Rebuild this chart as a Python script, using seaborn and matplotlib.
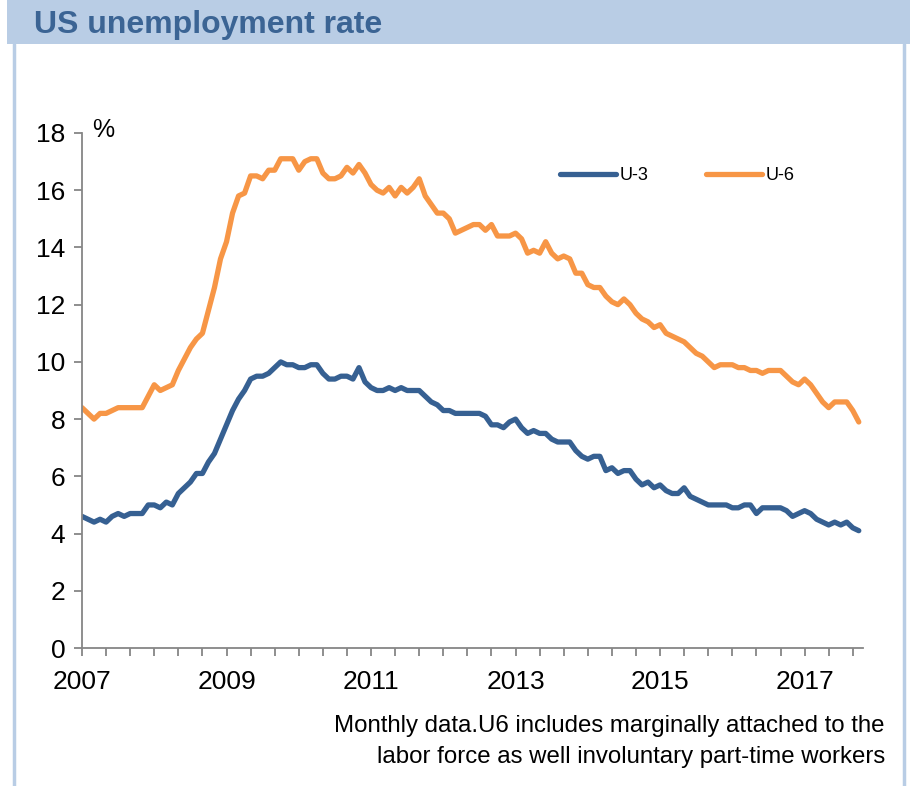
import numpy as np
import pandas as pd
import matplotlib
matplotlib.use("Agg")
import matplotlib.pyplot as plt
import seaborn as sns
from matplotlib.patches import Rectangle
from matplotlib.lines import Line2D

# monthly values, Jan 2007 .. Oct 2017
u3 = [4.6, 4.5, 4.4, 4.5, 4.4, 4.6, 4.7, 4.6, 4.7, 4.7, 4.7, 5.0,
      5.0, 4.9, 5.1, 5.0, 5.4, 5.6, 5.8, 6.1, 6.1, 6.5, 6.8, 7.3,
      7.8, 8.3, 8.7, 9.0, 9.4, 9.5, 9.5, 9.6, 9.8, 10.0, 9.9, 9.9,
      9.8, 9.8, 9.9, 9.9, 9.6, 9.4, 9.4, 9.5, 9.5, 9.4, 9.8, 9.3,
      9.1, 9.0, 9.0, 9.1, 9.0, 9.1, 9.0, 9.0, 9.0, 8.8, 8.6, 8.5,
      8.3, 8.3, 8.2, 8.2, 8.2, 8.2, 8.2, 8.1, 7.8, 7.8, 7.7, 7.9,
      8.0, 7.7, 7.5, 7.6, 7.5, 7.5, 7.3, 7.2, 7.2, 7.2, 6.9, 6.7,
      6.6, 6.7, 6.7, 6.2, 6.3, 6.1, 6.2, 6.2, 5.9, 5.7, 5.8, 5.6,
      5.7, 5.5, 5.4, 5.4, 5.6, 5.3, 5.2, 5.1, 5.0, 5.0, 5.0, 5.0,
      4.9, 4.9, 5.0, 5.0, 4.7, 4.9, 4.9, 4.9, 4.9, 4.8, 4.6, 4.7,
      4.8, 4.7, 4.5, 4.4, 4.3, 4.4, 4.3, 4.4, 4.2, 4.1]
u6 = [8.4, 8.2, 8.0, 8.2, 8.2, 8.3, 8.4, 8.4, 8.4, 8.4, 8.4, 8.8,
      9.2, 9.0, 9.1, 9.2, 9.7, 10.1, 10.5, 10.8, 11.0, 11.8, 12.6, 13.6,
      14.2, 15.2, 15.8, 15.9, 16.5, 16.5, 16.4, 16.7, 16.7, 17.1, 17.1, 17.1,
      16.7, 17.0, 17.1, 17.1, 16.6, 16.4, 16.4, 16.5, 16.8, 16.6, 16.9, 16.6,
      16.2, 16.0, 15.9, 16.1, 15.8, 16.1, 15.9, 16.1, 16.4, 15.8, 15.5, 15.2,
      15.2, 15.0, 14.5, 14.6, 14.7, 14.8, 14.8, 14.6, 14.8, 14.4, 14.4, 14.4,
      14.5, 14.3, 13.8, 13.9, 13.8, 14.2, 13.8, 13.6, 13.7, 13.6, 13.1, 13.1,
      12.7, 12.6, 12.6, 12.3, 12.1, 12.0, 12.2, 12.0, 11.7, 11.5, 11.4, 11.2,
      11.3, 11.0, 10.9, 10.8, 10.7, 10.5, 10.3, 10.2, 10.0, 9.8, 9.9, 9.9,
      9.9, 9.8, 9.8, 9.7, 9.7, 9.6, 9.7, 9.7, 9.7, 9.5, 9.3, 9.2,
      9.4, 9.2, 8.9, 8.6, 8.4, 8.6, 8.6, 8.6, 8.3, 7.9]
year_labels = ["2007", "2009", "2011", "2013", "2015", "2017"]

months = np.arange(len(u3))
df = pd.DataFrame({"month": np.concatenate([months, months]),
                   "rate": u3 + u6,
                   "series": ["U-3"] * len(u3) + ["U-6"] * len(u6)})

sns.set_theme(style="white")
plt.rcParams["font.family"] = ["Liberation Sans", "DejaVu Sans"]
plt.rcParams["text.color"] = "black"

blue = "#366092"
orange = "#F79646"
grey = "#868686"

fig = plt.figure(figsize=(9.1, 7.86), dpi=100)

# title bar and frame
fig.patches.append(Rectangle((7 / 910, 1 - 44 / 786), 1, 44 / 786, transform=fig.transFigure,
                             facecolor="#B9CDE5", edgecolor="none", zorder=0))
fig.add_artist(Line2D([14 / 910, 14 / 910], [0, 1 - 44 / 786], color="#B9CDE5", lw=2.5))
fig.add_artist(Line2D([904 / 910, 904 / 910], [0, 1 - 44 / 786], color="#B9CDE5", lw=2.5))
fig.text(34 / 910, 1 - 25 / 786, "US unemployment rate", fontsize=23, fontweight="bold",
         color="#3B6494", va="center", ha="left")

ax = fig.add_axes([82 / 910, 138 / 786, 781 / 910, 515 / 786])
sns.lineplot(data=df, x="month", y="rate", hue="series", palette={"U-3": blue, "U-6": orange},
             linewidth=3.8, ax=ax, legend=False)
for ln in ax.lines:
    ln.set_solid_capstyle("round")
    ln.set_solid_joinstyle("round")

ax.set_xlim(0, 129.7)
ax.set_ylim(0, 18)
ax.set_yticks(np.arange(0, 19, 2))
ax.set_xticks(np.arange(0, 130, 4))
ax.set_xticklabels([year_labels[i // 24] if i % 24 == 0 else "" for i in range(0, 130, 4)])
ax.tick_params(axis="both", labelsize=19, colors=grey, labelcolor="black", length=6,
               width=1.3, direction="out", bottom=True, left=True)
ax.tick_params(axis="x", pad=10)
ax.tick_params(axis="y", pad=6)
ax.set_xlabel("")
ax.set_ylabel("")
for side in ["top", "right"]:
    ax.spines[side].set_visible(False)
for side in ["left", "bottom"]:
    ax.spines[side].set_color(grey)
    ax.spines[side].set_linewidth(1.3)

ax.text(92 / 910, 1 - 130 / 786, "%", transform=fig.transFigure, fontsize=18, va="center")

handles = [Line2D([], [], color=blue, lw=3.8, solid_capstyle="round"),
           Line2D([], [], color=orange, lw=3.8, solid_capstyle="round")]
fig.legend(handles, ["U-3", "U-6"], loc="center", bbox_to_anchor=(677 / 910, 1 - 176 / 786),
           ncol=2, frameon=False, fontsize=13, handlelength=3.1, handletextpad=0.2,
           columnspacing=3.2)

fig.text(885 / 910, 1 - 726 / 786, "Monthly data.U6 includes marginally attached to the",
         fontsize=17.3, ha="right", va="center")
fig.text(885 / 910, 1 - 757 / 786, "labor force as well involuntary part-time workers",
         fontsize=17.3, ha="right", va="center")

fig.savefig("out.png", dpi=100)
